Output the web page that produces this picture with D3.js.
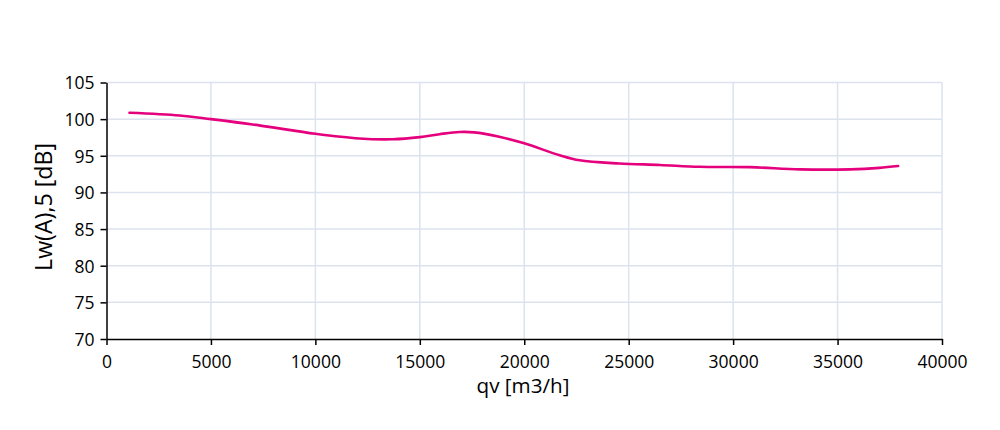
<!DOCTYPE html>
<html><head><meta charset="utf-8">
<script src="https://cdn.jsdelivr.net/npm/d3@7"></script>
<style>body{margin:0;background:#fff}svg{display:block}text{font-family:"Open Sans","Liberation Sans",Arial,sans-serif}</style>
</head><body><svg id="c" width="1000" height="430"></svg>
<script>
const qv = [1100, 3500, 5000, 7300, 10000, 12100, 13700, 15000, 15950, 16900, 17600, 18800, 20000, 21700, 22650, 24550, 26500, 28400, 30800, 33200, 35600, 37000, 37900];
const lw = [100.87, 100.5, 100.0, 99.15, 98.0, 97.36, 97.26, 97.55, 97.95, 98.25, 98.2, 97.6, 96.7, 95.07, 94.38, 93.95, 93.75, 93.5, 93.45, 93.15, 93.15, 93.35, 93.6];
const xTicks = [0, 5000, 10000, 15000, 20000, 25000, 30000, 35000, 40000];
const yTicks = [70, 75, 80, 85, 90, 95, 100, 105];

const svg = d3.select("#c");
const x = d3.scaleLinear().domain([0, 40000]).range([106.5, 942]);
const y = d3.scaleLinear().domain([70, 105]).range([339, 82.5]);

const grid = svg.append("g").attr("stroke", "#dce3ee").attr("stroke-width", 1.5);
xTicks.filter(d => d > 0).forEach(d => grid.append("line").attr("x1", x(d)).attr("x2", x(d)).attr("y1", y(105)).attr("y2", y(70)));
yTicks.filter(d => d > 70).forEach(d => grid.append("line").attr("x1", x(0)).attr("x2", x(40000)).attr("y1", y(d)).attr("y2", y(d)));

const xa = svg.append("g").attr("transform", `translate(0,${y(70)})`)
  .call(d3.axisBottom(x).tickValues(xTicks).tickSize(6).tickSizeOuter(0).tickFormat(d3.format("d")));
const ya = svg.append("g").attr("transform", `translate(${x(0)},0)`)
  .call(d3.axisLeft(y).tickValues(yTicks).tickSize(6).tickSizeOuter(0).tickFormat(d3.format("d")));
[xa, ya].forEach(a => {
  a.select(".domain").attr("stroke", "#000").attr("stroke-width", 1.5);
  a.selectAll(".tick line").attr("stroke", "#000").attr("stroke-width", 1.5);
  a.selectAll(".tick text").attr("font-size", 17.5).attr("fill", "#000").attr("font-family", "'Open Sans', 'Liberation Sans', Arial, sans-serif");
});
ya.selectAll(".tick text").attr("x", -12).attr("dy", "0.36em");
xa.selectAll(".tick text").attr("y", 29).attr("dy", null);

svg.append("path").datum(qv.map((v, i) => [v, lw[i]]))
  .attr("fill", "none").attr("stroke", "#e5007d").attr("stroke-width", 2.6)
  .attr("stroke-linecap", "round")
  .attr("d", d3.line().x(d => x(d[0])).y(d => y(d[1])).curve(d3.curveCatmullRom));

function fit(t, w) {
  const l = t.node().getComputedTextLength();
  const fs = parseFloat(t.attr("font-size"));
  t.attr("font-size", fs * w / l);
}
const xt = svg.append("text").attr("x", 523).attr("y", 393).attr("text-anchor", "middle")
  .attr("font-size", 20).text("qv [m3/h]");
fit(xt, 93);
const yt = svg.append("text").attr("transform", "translate(52,207) rotate(-90)").attr("text-anchor", "middle")
  .attr("font-size", 20).text("Lw(A),5 [dB]");
fit(yt, 128);
</script></body></html>
